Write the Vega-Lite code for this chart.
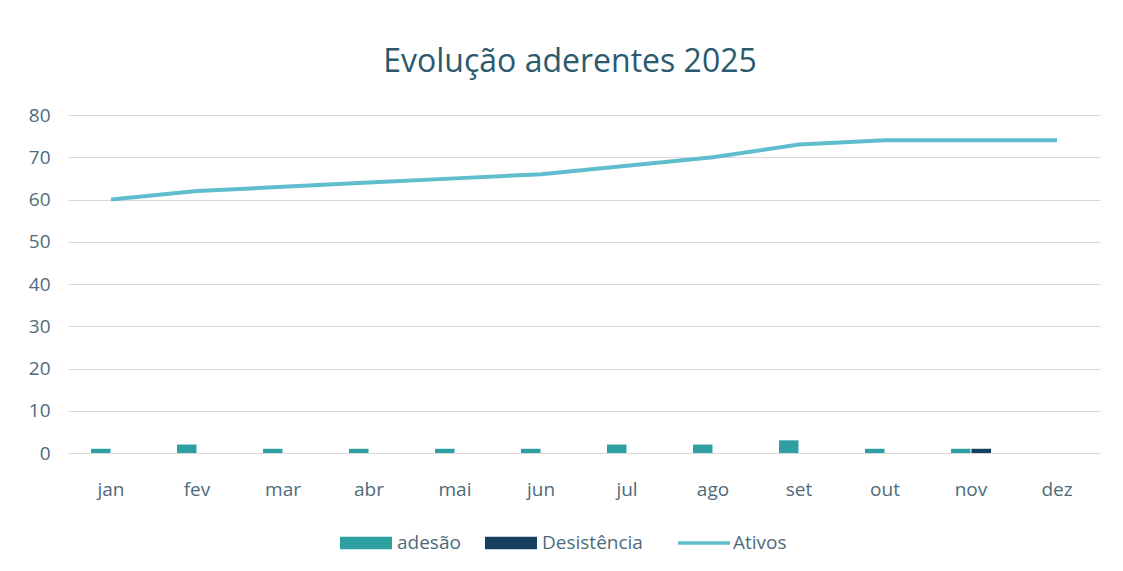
{
  "$schema": "https://vega.github.io/schema/vega-lite/v6.json",
  "autosize": {"type": "none"},
  "width": 1032,
  "height": 338,
  "padding": {"left": 68, "top": 115, "right": 23, "bottom": 118},
  "background": "white",
  "config": {
    "font": "Open Sans",
    "view": {"stroke": null},
    "axis": {"labelFont": "Open Sans", "labelColor": "#4e6b7b", "labelFontSize": 19}
  },
  "title": {
    "text": "Evolução aderentes 2025",
    "font": "Open Sans",
    "fontSize": 32,
    "fontWeight": "normal",
    "color": "#2b5a6e",
    "anchor": "middle",
    "dx": -14,
    "offset": 27
  },
  "datasets": {
    "barras": [
      {"mes": "jan", "serie": "adesão", "valor": 1},
      {"mes": "fev", "serie": "adesão", "valor": 2},
      {"mes": "mar", "serie": "adesão", "valor": 1},
      {"mes": "abr", "serie": "adesão", "valor": 1},
      {"mes": "mai", "serie": "adesão", "valor": 1},
      {"mes": "jun", "serie": "adesão", "valor": 1},
      {"mes": "jul", "serie": "adesão", "valor": 2},
      {"mes": "ago", "serie": "adesão", "valor": 2},
      {"mes": "set", "serie": "adesão", "valor": 3},
      {"mes": "out", "serie": "adesão", "valor": 1},
      {"mes": "nov", "serie": "adesão", "valor": 1},
      {"mes": "nov", "serie": "Desistência", "valor": 1}
    ],
    "ativos": [
      {"mes": "jan", "serie": "Ativos", "valor": 60},
      {"mes": "fev", "serie": "Ativos", "valor": 62},
      {"mes": "mar", "serie": "Ativos", "valor": 63},
      {"mes": "abr", "serie": "Ativos", "valor": 64},
      {"mes": "mai", "serie": "Ativos", "valor": 65},
      {"mes": "jun", "serie": "Ativos", "valor": 66},
      {"mes": "jul", "serie": "Ativos", "valor": 68},
      {"mes": "ago", "serie": "Ativos", "valor": 70},
      {"mes": "set", "serie": "Ativos", "valor": 73},
      {"mes": "out", "serie": "Ativos", "valor": 74},
      {"mes": "nov", "serie": "Ativos", "valor": 74},
      {"mes": "dez", "serie": "Ativos", "valor": 74}
    ]
  },
  "encoding": {
    "x": {
      "field": "mes", "type": "nominal",
      "scale": {"domain": ["jan","fev","mar","abr","mai","jun","jul","ago","set","out","nov","dez"], "paddingInner": 0.535, "paddingOuter": 0.2675},
      "axis": {"title": null, "labelAngle": 0, "ticks": false, "domainColor": "#d9d9d9", "domainWidth": 1, "labelPadding": 27, "grid": false}
    },
    "y": {
      "field": "valor", "type": "quantitative",
      "scale": {"domain": [0, 80], "nice": false},
      "axis": {"title": null, "values": [0,10,20,30,40,50,60,70,80], "labelOverlap": false, "domain": false, "ticks": false, "gridColor": "#d9d9d9", "gridWidth": 1, "labelPadding": 18}
    }
  },
  "layer": [
    {
      "data": {"name": "barras"},
      "mark": {"type": "bar"},
      "encoding": {
        "xOffset": {"field": "serie", "type": "nominal", "scale": {"domain": ["adesão", "Desistência"], "paddingInner": 0.05}},
        "color": {
          "field": "serie", "type": "nominal",
          "scale": {"domain": ["adesão", "Desistência"], "range": ["#2e9fa2", "#143f5e"]},
          "legend": {
            "title": null,
            "orient": "none",
            "direction": "horizontal",
            "legendX": 272,
            "legendY": 402,
            "symbolType": "M-1,-0.24H1V0.24H-1Z",
            "symbolSize": 2704,
            "symbolStrokeWidth": 0,
            "labelFontSize": 19,
            "labelFont": "Open Sans",
            "labelColor": "#4e6b7b",
            "labelOffset": 5,
            "columnPadding": 24
          }
        }
      }
    },
    {
      "data": {"name": "ativos"},
      "mark": {"type": "line", "strokeWidth": 4},
      "encoding": {
        "stroke": {
          "field": "serie", "type": "nominal",
          "scale": {"domain": ["Ativos"], "range": ["#5fbdcd"]},
          "legend": {
            "title": null,
            "orient": "none",
            "legendX": 608,
            "legendY": 400,
            "symbolType": "stroke",
            "symbolSize": 2704,
            "symbolStrokeWidth": 3.5,
            "labelFontSize": 19,
            "labelFont": "Open Sans",
            "labelColor": "#4e6b7b",
            "labelOffset": 1
          }
        }
      }
    }
  ]
}
